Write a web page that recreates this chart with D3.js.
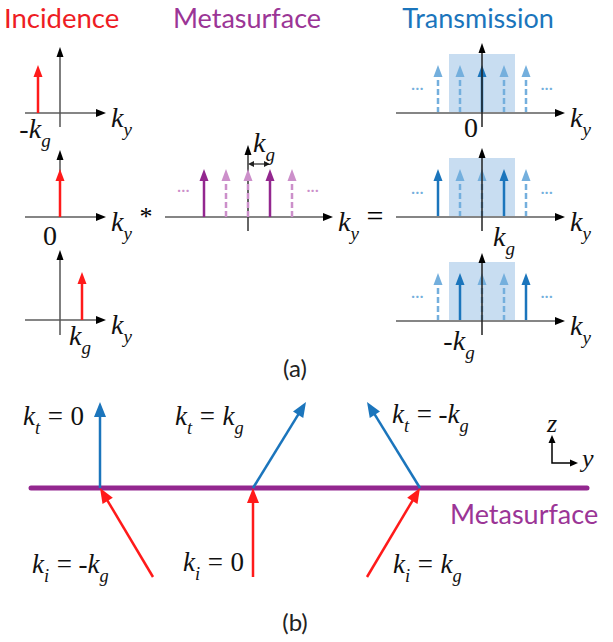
<!DOCTYPE html>
<html><head><meta charset="utf-8">
<script src="https://cdn.jsdelivr.net/npm/d3@7"></script>
<style>body{margin:0;background:#fff}</style>
</head><body>
<svg id="c" width="613" height="642"></svg>
<script>
// ---------------- data ----------------
const panelTitles = ["Incidence", "Metasurface", "Transmission"];
const incidenceOrders = [-1, 0, 1];            // incident k_y of each row (units of k_g)
const incidenceTickLabels = ["-k_g", "0", "k_g"];
const metaOrders = [-2, -1, 0, 1, 2];           // metasurface spectrum orders
const metaSolidOrders = [-2, 1];
const transOrders = [-2, -1, 0, 1, 2];          // transmitted orders shown in each row
const transSolidOrders = [[0], [-2, 1], [-1, 2]];
const transTickOrders = [0, 1, -1];
const transTickLabels = ["0", "k_g", "-k_g"];
const arrowAmplitude = 1;                       // all spectral lines have equal height
const incidentKi = [-1, 0, 1];                  // part (b): incident k_i (units of k_g)
const transmittedKt = [0, 1, -1];               // part (b): transmitted k_t
const incidentLabels = ["k_i = -k_g", "k_i = 0", "k_i = k_g"];
const transmittedLabels = ["k_t = 0", "k_t = k_g", "k_t = -k_g"];

// ---------------- style ----------------
const RED = "#ff1a1a", PURPLE = "#93278f", PURPLE_L = "#cc8fca",
      BLUE = "#1b75bc", BLUE_L = "#74afdd", SHADE = "#c8ddf1", AXIS = "#858585";
const MATH = "'Liberation Serif','Times New Roman',serif";
const SANS = "Lato, 'Open Sans', sans-serif";

const svg = d3.select("#c");

function head(g, x1, y1, x2, y2, len, w, color) {
  const a = Math.atan2(y2 - y1, x2 - x1);
  const bx = x2 - len * Math.cos(a), by = y2 - len * Math.sin(a);
  const px = -Math.sin(a) * w / 2, py = Math.cos(a) * w / 2;
  g.append("path").attr("d", d3.line()([[x2, y2], [bx + px, by + py], [bx - px, by - py]]) + "Z")
    .attr("fill", color);
  return [bx, by];
}
function arrow(g, x1, y1, x2, y2, o) {
  const len = o.len || 12, w = o.w || 9;
  const a = Math.atan2(y2 - y1, x2 - x1);
  const ex = x2 - (len - 1) * Math.cos(a), ey = y2 - (len - 1) * Math.sin(a);
  g.append("line").attr("x1", x1).attr("y1", y1).attr("x2", ex).attr("y2", ey)
    .attr("stroke", o.stroke || o.color).attr("stroke-width", o.sw || 2.5)
    .attr("stroke-dasharray", o.dash || null);
  head(g, x1, y1, x2, y2, len, w, o.headColor || o.color);
}
function mathText(g, x, y, str, o = {}) {
  const size = o.size || 26, sub = size * 0.68, shift = size * 0.32;
  const t = g.append("text").attr("x", x).attr("y", y).attr("font-family", MATH)
    .attr("font-size", size).attr("text-anchor", o.anchor || "start").attr("fill", o.fill || "#111");
  let inSub = false, pendDx = 0;
  for (let i = 0; i < str.length; i++) {
    let c = str[i], isSub = false;
    if (c === " ") { pendDx += size * 0.28; continue; }
    if (c === "_") { c = str[++i]; isSub = true; }
    const ts = t.append("tspan").text(c)
      .attr("font-style", /[a-z]/.test(c) ? "italic" : "normal")
      .attr("font-size", isSub ? sub : size);
    let dy = 0;
    if (isSub && !inSub) dy = shift;
    if (!isSub && inSub) dy = -shift;
    if (dy) ts.attr("dy", dy);
    if (pendDx) ts.attr("dx", pendDx);
    if (c === "-") ts.attr("dx", (pendDx || 0) - 1);
    inSub = isSub; pendDx = 0;
  }
  return t;
}
function title(x, y, s, color, size, anchor) {
  svg.append("text").attr("x", x).attr("y", y).attr("font-family", SANS)
    .attr("font-size", size).attr("fill", color).attr("text-anchor", anchor || "start").text(s);
}

// ---------------- part (a) ----------------
const STEP = 22, AMP = 48;
const amp = d3.scaleLinear().domain([0, 1]).range([0, AMP]);

function spectrumAxes(g, cx, ay, left, right, vTop, vBottom, vColor) {
  g.append("line").attr("x1", left).attr("x2", right - 8).attr("y1", ay).attr("y2", ay)
    .attr("stroke", AXIS).attr("stroke-width", 2);
  head(g, left, ay, right, ay, 10, 8, "#000");
  g.append("line").attr("x1", cx).attr("x2", cx).attr("y1", vBottom).attr("y2", vTop + 8)
    .attr("stroke", vColor).attr("stroke-width", 1.5);
  head(g, cx, vBottom, cx, vTop, 10, 7, "#000");
  mathText(g, right + 5, ay + 14, "k_y", { size: 28 });
}

// titles
title(4, 28, panelTitles[0], "#ee1c24", 27.5);
title(247, 28, panelTitles[1], "#9b3596", 27, "middle");
title(478, 28, panelTitles[2], "#1b75bc", 27, "middle");

// incidence column
const incAxisY = [113, 217, 320], incCx = 60;
const incVTop = [47, 150, 250], incVBottom = [127, 217, 335];
incidenceOrders.forEach((k, r) => {
  const g = svg.append("g");
  const x = d3.scaleLinear().domain([-1, 1]).range([incCx - STEP, incCx + STEP]);
  spectrumAxes(g, incCx, incAxisY[r], 25, 106, incVTop[r], incVBottom[r], "#555");
  arrow(g, x(k), incAxisY[r], x(k), incAxisY[r] - amp(arrowAmplitude), { color: RED, sw: 2.5 });
  const lab = incidenceTickLabels[r];
  if (lab === "0") mathText(g, incCx - 3, incAxisY[r] + 28, lab, { anchor: "end", size: 28 });
  else mathText(g, x(k) - 2, incAxisY[r] + 25, lab, { anchor: "middle", size: 28 });
});

// convolution sign
svg.append("text").attr("x", 146).attr("y", 225).attr("font-family", MATH).attr("font-size", 26)
  .attr("text-anchor", "middle").text("*");

// metasurface spectrum
{
  const g = svg.append("g");
  const cx = 248, ay = 217;
  const x = d3.scaleLinear().domain([-1, 1]).range([cx - STEP, cx + STEP]);
  spectrumAxes(g, cx, ay, 165, 333, 145, 231, "#333");
  metaOrders.forEach(k => {
    const solid = metaSolidOrders.includes(k);
    arrow(g, x(k), ay, x(k), ay - amp(arrowAmplitude), {
      color: solid ? PURPLE : PURPLE_L, sw: 2.5, dash: solid ? null : "6,3"
    });
  });
  [-3, 3].forEach(k => {
    g.append("text").attr("x", x(k * 0.98)).attr("y", ay - 22).attr("font-family", SANS)
      .attr("font-size", 16).attr("fill", PURPLE_L).attr("text-anchor", "middle").text("\u00b7\u00b7\u00b7");
  });
  // k_g spacing marker
  const yy = 164;
  g.append("line").attr("x1", x(0) + 5).attr("x2", x(1) - 5).attr("y1", yy).attr("y2", yy)
    .attr("stroke", "#222").attr("stroke-width", 1.2);
  head(g, x(1), yy, x(0), yy, 6, 6, "#222");
  head(g, x(0), yy, x(1), yy, 6, 6, "#222");
  mathText(g, cx + 5, 152, "k_g", { size: 28 });
  svg.append("text").attr("x", 375).attr("y", 226).attr("font-family", MATH).attr("font-size", 30)
    .attr("text-anchor", "middle").text("=");
}

// transmission column
const trAxisY = [113, 217, 321], trCx = 482;
const trVTop = [43, 148, 253], trVBottom = [127, 231, 335];
transSolidOrders.forEach((solids, r) => {
  const g = svg.append("g");
  const ay = trAxisY[r];
  const x = d3.scaleLinear().domain([-1, 1]).range([trCx - STEP, trCx + STEP]);
  g.append("rect").attr("x", x(-1.5)).attr("width", x(1.5) - x(-1.5))
    .attr("y", ay - 59).attr("height", 59).attr("fill", SHADE);
  transOrders.forEach(k => {
    const solid = solids.includes(k);
    arrow(g, x(k), ay, x(k), ay - amp(arrowAmplitude), {
      color: solid ? BLUE : BLUE_L, sw: 2.5, dash: solid ? null : "6,3"
    });
  });
  [-3, 3].forEach(k => {
    g.append("text").attr("x", x(k * 0.98)).attr("y", ay - 20).attr("font-family", SANS)
      .attr("font-size", 16).attr("fill", BLUE_L).attr("text-anchor", "middle").text("\u00b7\u00b7\u00b7");
  });
  spectrumAxes(g, trCx, ay, 396, 565, trVTop[r], trVBottom[r], "#222");
  const lab = transTickLabels[r];
  if (lab === "0") mathText(g, trCx - 4, ay + 24, lab, { anchor: "end", size: 28 });
  else mathText(g, x(transTickOrders[r]), ay + 29, lab, { anchor: "middle", size: 28 });
});

title(295, 377, "(a)", "#222", 24, "middle");

// ---------------- part (b) ----------------
{
  const g = svg.append("g");
  const surfY = 488;
  const hitX = [100, 253, 420];
  const kx = d3.scaleLinear().domain([0, 1]).range([0, 53]);   // lateral component per k_g
  const kzIn = 89, kzOut = 86;
  g.append("line").attr("x1", 31).attr("x2", 587).attr("y1", surfY).attr("y2", surfY)
    .attr("stroke", PURPLE).attr("stroke-width", 5).attr("stroke-linecap", "round");
  incidentKi.forEach((ki, i) => {
    const x0 = hitX[i];
    arrow(g, x0 - kx(ki), surfY + kzIn, x0, surfY, { color: RED, sw: 2.5, len: 15, w: 12 });
    const kt = transmittedKt[i];
    arrow(g, x0, surfY, x0 + kx(kt), surfY - kzOut, { color: BLUE, sw: 2.5, len: 15, w: 12 });
  });
  const tPos = [[23, 425], [175, 425], [392, 423]];
  transmittedLabels.forEach((s, i) => mathText(g, tPos[i][0], tPos[i][1], s, { size: 27 }));
  const iPos = [[32, 573], [183, 571], [393, 573]];
  incidentLabels.forEach((s, i) => mathText(g, iPos[i][0], iPos[i][1], s, { size: 27 }));
  title(450, 524, "Metasurface", "#9b3596", 27);

  // z-y axes
  const ox = 552, oy = 463;
  g.append("path").attr("d", `M${ox},${oy - 20}V${oy}H${ox + 18}`).attr("fill", "none")
    .attr("stroke", "#000").attr("stroke-width", 1.5);
  head(g, ox, oy, ox, oy - 28, 8, 7, "#000");
  head(g, ox, oy, ox + 26, oy, 8, 7, "#000");
  mathText(g, 547, 432, "z", { size: 26 });
  mathText(g, 582, 467, "y", { size: 26 });
  title(295, 631, "(b)", "#222", 24, "middle");
}
</script>
</body></html>
